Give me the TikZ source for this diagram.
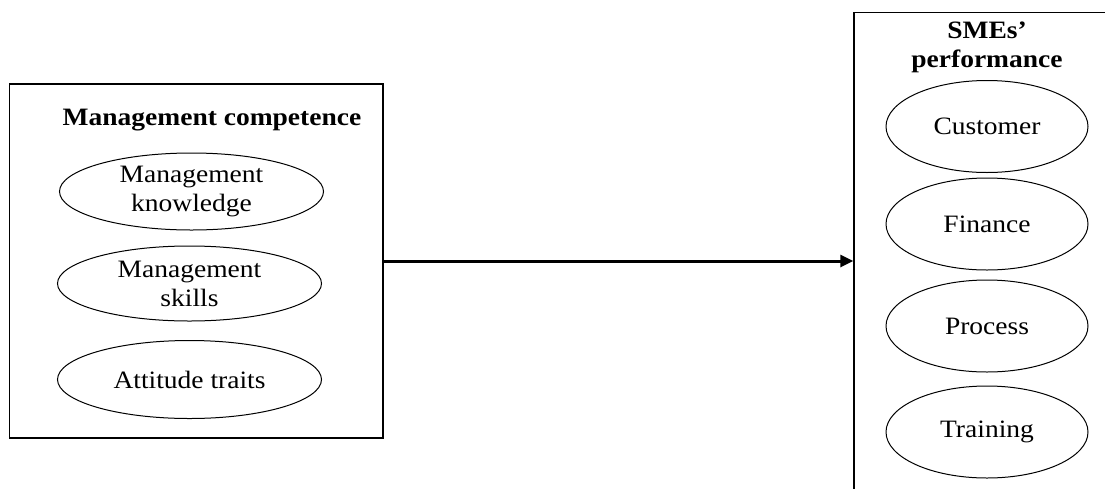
\documentclass[tikz,border=0pt]{standalone}
\usepackage{fontspec}
\setmainfont{Liberation Serif}[FakeStretch=1.1]
\usetikzlibrary{shapes.geometric,arrows.meta}
\tikzset{
  frame/.style={draw, line width=1.4pt, rectangle, inner sep=0pt},
  oval/.style={draw, line width=1pt, ellipse, inner sep=0pt, align=center,
    minimum width=202pt, minimum height=92pt,
    font=\fontsize{25}{29}\selectfont},
  oval2/.style={oval, minimum width=264pt, minimum height=77pt},
  title/.style={align=center, inner sep=0pt, font=\fontsize{25}{29}\selectfont\bfseries},
  link/.style={line width=3pt, -{Triangle[length=13pt,width=12pt]}}
}
\begin{document}
\begin{tikzpicture}[x=1pt,y=-1pt]
\useasboundingbox (0,0) rectangle (1105,488);
\clip (0,0) rectangle (1105,488);
\fill[white] (0,0) rectangle (1105,488);
% left box
\node[frame, minimum width=373.5pt, minimum height=354pt] (lbox) at (196.25,261) {};
\node[title] (ltitle) at (212,120) {Management competence};
\node[oval2] (know) at (191.5,191.5) {Management\\knowledge};
\node[oval2, minimum height=75pt] (skills) at (189.5,283.5) {Management\\skills};
\node[oval2, minimum height=78pt] (att) at (189.5,379.5) {Attitude traits};
% right box (cut off by the picture's edges)
\node[frame, minimum width=280pt, minimum height=520pt] (rbox) at (994,272.5) {};
\node[title] (rtitle) at (987,47.5) {SMEs’\\performance};
\node[oval] (cust) at (987,126.5) {Customer};
\node[oval] (fin) at (987,224) {Finance};
\node[oval] (proc) at (987,326) {Process};
\node[oval] (train) at (987,432) {Training};
% connector
\draw[link] (lbox.east) -- (lbox.east -| rbox.west);
\end{tikzpicture}
\end{document}
